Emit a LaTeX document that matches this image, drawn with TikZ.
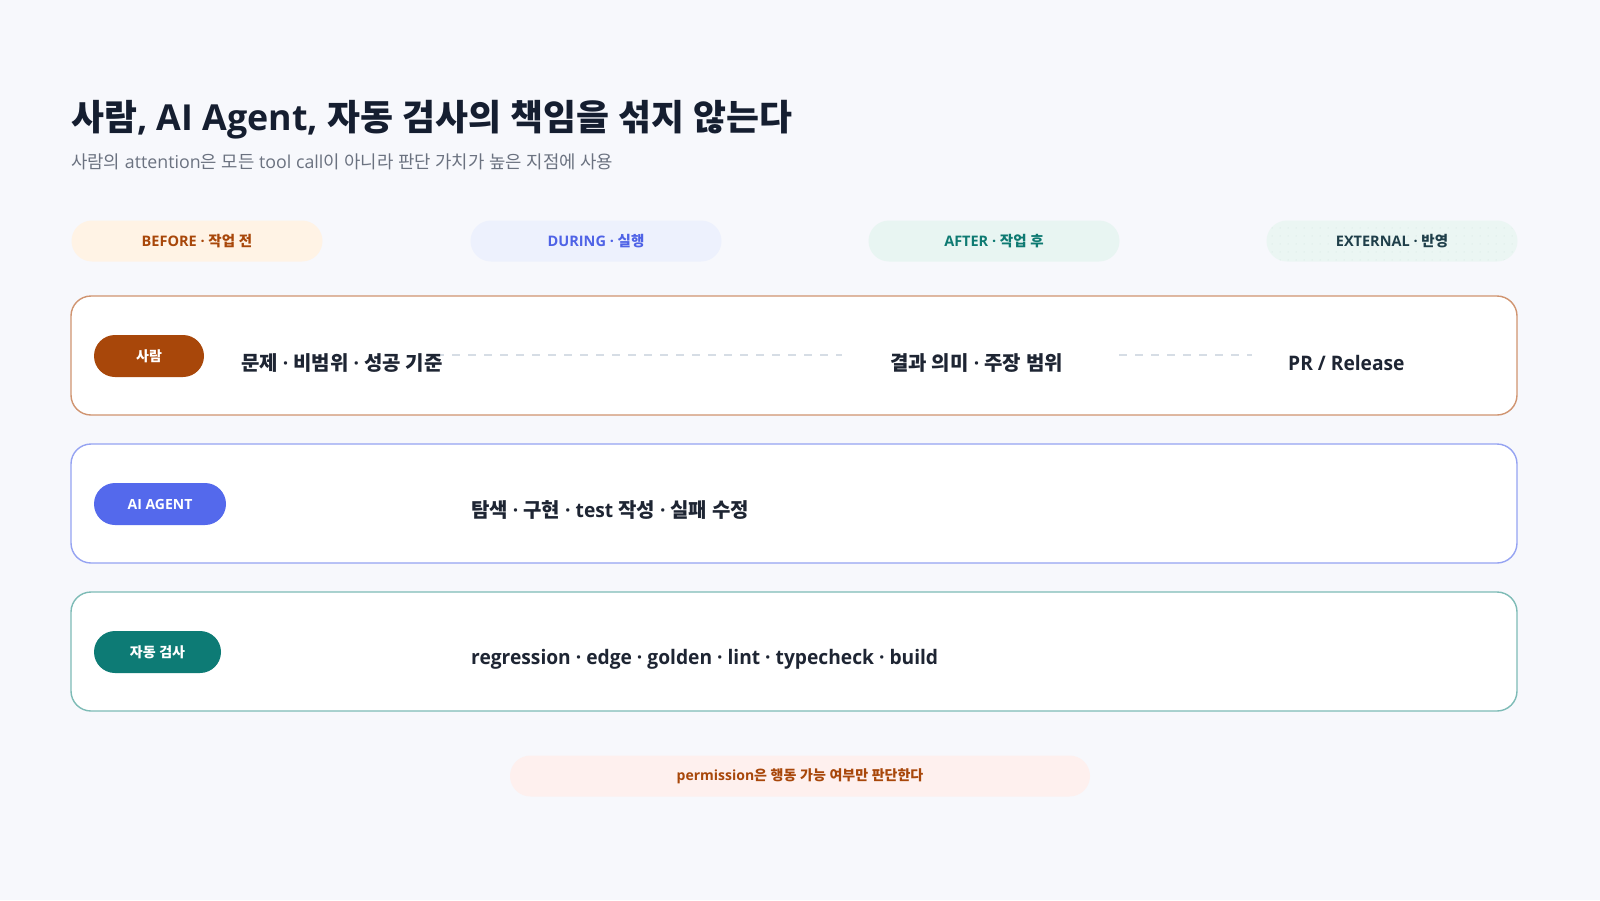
\documentclass[tikz,border=0pt]{standalone}
\usepackage{fontspec}
\setmainfont{Open Sans}
\newfontfamily\krfont{Noto Sans CJK KR}
\newfontfamily\latrow{Open Sans}[FakeStretch=0.96]
\def\latinfam{\rmfamily}
\XeTeXinterchartokenstate=1
\newXeTeXintercharclass\krclass
\newcount\krcc
\krcc="AC00
\loop\XeTeXcharclass\krcc=\krclass\advance\krcc by 1\ifnum\krcc<"D7A4\repeat
\XeTeXinterchartoks 0 \krclass={\krfont}
\XeTeXinterchartoks 4095 \krclass={\krfont}
\XeTeXinterchartoks \krclass 0={\latinfam}
\XeTeXinterchartoks \krclass 4095={\latinfam}
\newcommand\rowlatin{\def\latinfam{\latrow}\latrow}
\usetikzlibrary{patterns.meta}
\definecolor{bg}{HTML}{F7F8FC}
\definecolor{titlec}{HTML}{151E30}
\definecolor{subc}{HTML}{6B7280}
\definecolor{bodyc}{HTML}{1E2533}
\definecolor{orangec}{HTML}{A8470A}
\definecolor{orangefill}{HTML}{FFF3E5}
\definecolor{orangeline}{HTML}{D09470}
\definecolor{bluec}{HTML}{4F63E6}
\definecolor{bluebadge}{HTML}{5469EC}
\definecolor{bluefill}{HTML}{EDF1FD}
\definecolor{blueline}{HTML}{95A3F2}
\definecolor{tealc}{HTML}{0E7A72}
\definecolor{tealbadge}{HTML}{0D7B75}
\definecolor{tealfill}{HTML}{E8F5F2}
\definecolor{tealline}{HTML}{7DBBB6}
\definecolor{extc}{HTML}{1F3F4A}
\definecolor{extfill}{HTML}{EBF6F3}
\definecolor{extdot}{HTML}{CFE3DD}
\definecolor{pinkfill}{HTML}{FEF0EE}
\definecolor{dashc}{HTML}{D6DDE5}
\begin{document}
\begin{tikzpicture}[x=1pt,y=-1pt,
  phasepill/.style={rounded corners=20.5pt, minimum width=251pt, minimum height=41pt, inner sep=0pt,
     font=\fontsize{14.5}{16}\selectfont\bfseries},
  rowbox/.style={rounded corners=20pt, fill=white, line width=1.4pt, minimum width=1446pt, minimum height=119pt, inner sep=0pt},
  badge/.style={rounded corners=21pt, minimum height=42pt, inner sep=0pt, text=white,
     font=\fontsize{14}{16}\selectfont\bfseries},
  rowtext/.style={anchor=west, inner sep=0pt, text=bodyc, font=\fontsize{20}{24}\selectfont\bfseries\rowlatin},
  guide/.style={draw=dashc, line width=2pt, dash pattern=on 8pt off 8pt}
]
\useasboundingbox (0,0) rectangle (1600,900);
\fill[bg] (0,0) rectangle (1600,900);

% title
\node[anchor=base west, inner sep=0pt, text=titlec, font=\fontsize{35.8}{40}\selectfont\bfseries] (title) at (71,130) {사람, AI Agent, 자동 검사의 책임을 섞지 않는다};
\node[anchor=base west, inner sep=0pt, text=subc, font=\fontsize{17.8}{20}\selectfont] (subtitle) at (71,168) {사람의 attention은 모든 tool call이 아니라 판단 가치가 높은 지점에 사용};

% phase pills
\node[phasepill, fill=orangefill, text=orangec] (before) at (197,241) {\raisebox{-1pt}{BEFORE · 작업 전}};
\node[phasepill, fill=bluefill, text=bluec] (during) at (596,241) {\raisebox{-1pt}{DURING · 실행}};
\node[phasepill, fill=tealfill, text=tealc] (after) at (994,241) {\raisebox{-1pt}{AFTER · 작업 후}};
\node[phasepill, preaction={fill=extfill}, pattern={Dots[distance=8pt, radius=0.5pt]}, pattern color=extdot, text=extc] (external) at (1392,241) {\raisebox{-1pt}{EXTERNAL · 반영}};

% row boxes
\node[rowbox, draw=orangeline] (rowhuman) at (794,355.5) {};
\node[rowbox, draw=blueline] (rowagent) at (794,503.5) {};
\node[rowbox, draw=tealline] (rowcheck) at (794,651.5) {};

% badges
\node[badge, fill=orangec, minimum width=110pt] (bhuman) at (149,356) {\raisebox{-2pt}{사람}};
\node[badge, fill=bluebadge, minimum width=132pt] (bagent) at (160,504) {\raisebox{-2pt}{AI AGENT}};
\node[badge, fill=tealbadge, minimum width=127pt] (bcheck) at (157.5,652) {\raisebox{-2pt}{자동 검사}};

% guide lines (behind text)
\coordinate (g1a) at (436,355);
\coordinate (g1b) at (842,355);
\coordinate (g2a) at (1119,355);
\coordinate (g2b) at (1252,355);
\draw[guide] (g1a) -- (g1b);
\draw[guide] (g2a) -- (g2b);

% row texts
\node[rowtext] (hbefore) at (241,363) {문제 · 비범위 · 성공 기준};
\node[rowtext] (hafter) at (890,363) {결과 의미 · 주장 범위};
\node[rowtext] (hext) at (1288,363) {PR / Release};
\node[rowtext] (agenttext) at (471,510) {탐색 · 구현 · test 작성 · 실패 수정};
\node[rowtext] (checktext) at (471,659) {regression · edge · golden · lint · typecheck · build};

% bottom note
\node[rounded corners=20.5pt, fill=pinkfill, minimum width=580pt, minimum height=41pt, inner sep=0pt,
  text=orangec, font=\fontsize{14}{16}\selectfont\bfseries] (note) at (800,776) {permission은 행동 가능 여부만 판단한다};
\end{tikzpicture}
\end{document}
